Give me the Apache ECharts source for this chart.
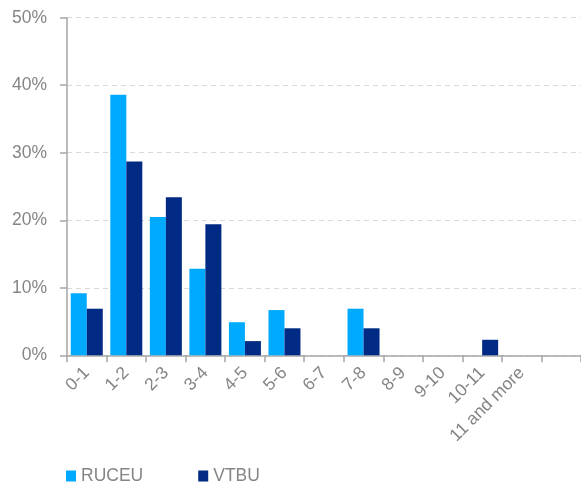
<!DOCTYPE html>
<html>
<head>
<meta charset="utf-8">
<script src="https://cdn.jsdelivr.net/npm/echarts@6/dist/echarts.min.js"></script>
<style>html,body{margin:0;padding:0;background:#fff;}#c{width:581px;height:483px;}</style>
</head>
<body>
<div id="c"></div>
<script>
var categories = ['0-1','1-2','2-3','3-4','4-5','5-6','6-7','7-8','8-9','9-10','10-11','11 and more',''];
var ruceu = [9.2, 38.6, 20.5, 12.8, 4.9, 6.7, 0, 6.9, 0, 0, 0, 0, 0];
var vtbu  = [6.9, 28.7, 23.4, 19.4, 2.1, 4.0, 0, 4.0, 0, 0, 2.3, 0, 0];
var yTicks = [0, 10, 20, 30, 40, 50];

var chart = echarts.init(document.getElementById('c'), null, {renderer: 'canvas'});
var txt = '#858585';
var ff = '"Liberation Sans", Arial, sans-serif';
var fs = 17.5;
chart.setOption({
  animation: false,
  textStyle: {fontFamily: ff},
  grid: {left: 67, right: 0, top: 17.7, bottom: 127.7, containLabel: false},
  legend: {
    left: 66, bottom: -2, padding: 0, itemWidth: 10, itemHeight: 11, itemGap: 55,
    icon: 'rect',
    textStyle: {color: txt, fontSize: fs, fontFamily: ff},
    data: ['RUCEU', 'VTBU']
  },
  xAxis: {
    type: 'category', data: categories,
    axisLine: {lineStyle: {color: '#a6a6a6', width: 1.5}},
    axisTick: {show: true, length: 7, lineStyle: {color: '#a6a6a6', width: 1.5}},
    axisLabel: {rotate: 45, color: txt, fontSize: fs, fontFamily: ff, margin: 15, interval: 0}
  },
  yAxis: {
    type: 'value', min: yTicks[0], max: yTicks[yTicks.length-1], interval: 10,
    axisLine: {show: true, lineStyle: {color: '#a6a6a6', width: 1.5}},
    axisTick: {show: true, length: 7, lineStyle: {color: '#a6a6a6', width: 1.5}},
    axisLabel: {color: txt, fontSize: fs, fontFamily: ff, margin: 20, formatter: '{value}%'},
    splitLine: {show: true, lineStyle: {color: '#d9d9d9', type: [5, 4], width: 1.2}}
  },
  series: [
    {name: 'RUCEU', type: 'bar', data: ruceu, barWidth: 16, barGap: '0%',
     itemStyle: {color: '#00AAFF'}},
    {name: 'VTBU', type: 'bar', data: vtbu, barWidth: 16, barGap: '0%',
     itemStyle: {color: '#002A84'}}
  ]
});
</script>
</body>
</html>
